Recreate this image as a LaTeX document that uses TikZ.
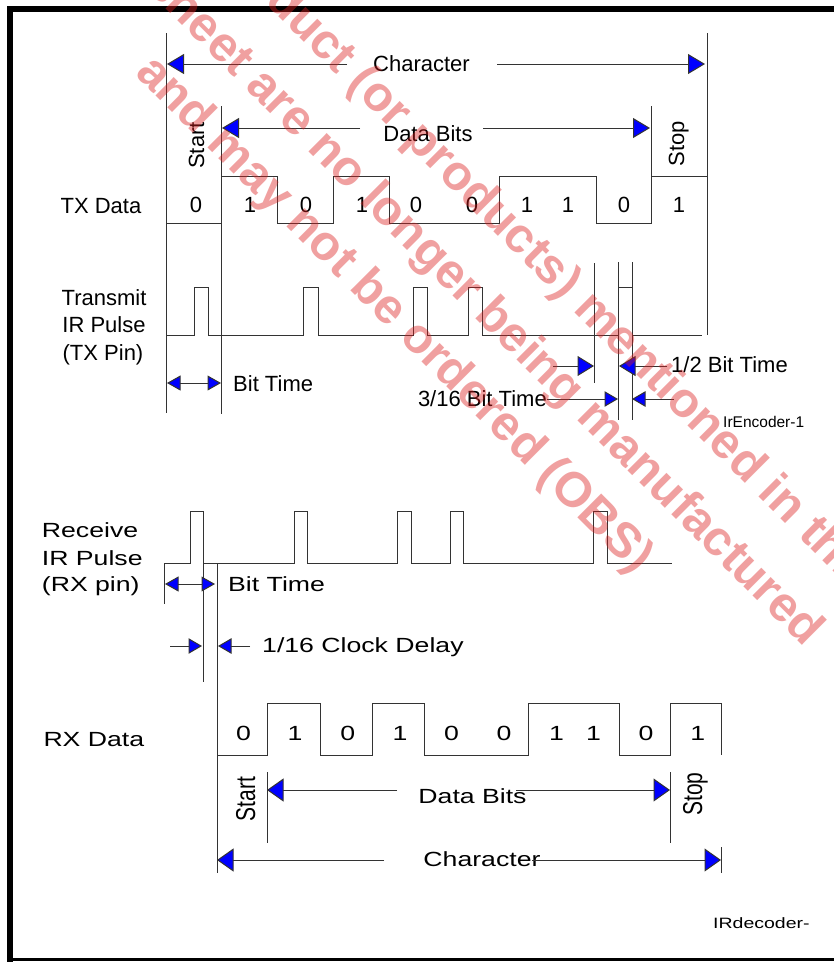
\documentclass[tikz,border=0pt]{standalone}
\usepackage{fontspec}
\setmainfont{Liberation Sans}
\newfontfamily\widefont[FakeStretch=1.3]{Liberation Sans}
\usetikzlibrary{arrows.meta}
\definecolor{wmred}{RGB}{220,30,30}
\tikzset{
  ln/.style={draw=black!80, line width=1pt},
  bord/.style={draw=black, line cap=rect},
  lt/.style={font=\fontsize{22}{22}\selectfont, inner sep=0pt},
  lts/.style={font=\fontsize{15.5}{15.5}\selectfont, inner sep=0pt},
  lb/.style={font=\widefont\fontsize{20.5}{20.5}\selectfont, inner sep=0pt},
  lbs/.style={font=\widefont\fontsize{15}{15}\selectfont, inner sep=0pt},
  tipA/.style={ln, -{Triangle[length=17pt,width=20pt,fill=blue]}},
  tipB/.style={ln, -{Triangle[length=13.5pt,width=15.5pt,fill=blue]}},
  tipC/.style={ln, {Triangle[length=13.5pt,width=15pt,fill=blue]}-{Triangle[length=13.5pt,width=15pt,fill=blue]}},
  tipD/.style={ln, -{Triangle[length=16.5pt,width=23pt,fill=blue]}},
  tipE/.style={ln, -{Triangle[length=16.5pt,width=20pt,fill=blue]}},
  wm/.style={rotate=-45, anchor=base west, inner sep=0pt, text=wmred, text opacity=0.42,
    font=\bfseries\fontsize{49}{49}\selectfont}
}
\begin{document}
\begin{tikzpicture}[x=1pt,y=-1pt]
\useasboundingbox (0,0) rectangle (834,962);
\fill[white] (0,0) rectangle (834,962);
% frame
\draw[bord, line width=6pt] (840,9) -- (10.3,9) -- (10.3,965);
\draw[bord, line width=2.5pt] (10,959.5) -- (840,959.5);

% ================= TX part =================
\draw[ln] (166,33) -- (166,413);
\draw[ln] (221,106) -- (221,414);
\draw[ln] (651,106) -- (651,224);
\draw[ln] (707,33) -- (707,335);
% TX data waveform
\draw[ln] (166,223) -- (221,223) -- (221,176) -- (277,176) -- (277,223) -- (333,223)
  -- (333,176) -- (389,176) -- (389,223) -- (499,223) -- (499,176) -- (596,176)
  -- (596,223) -- (651,223) -- (651,176) -- (707,176) -- (707,223);
% TX IR pulses
\draw[ln] (166,335) -- (194,335) -- (194,287) -- (208,287) -- (208,335) -- (303,335)
  -- (303,287) -- (318,287) -- (318,335) -- (413,335) -- (413,287) -- (427,287)
  -- (427,335) -- (468,335) -- (468,287) -- (482,287) -- (482,335) -- (618,335)
  -- (618,287) -- (632,287) -- (632,335) -- (702,335);
\draw[ln] (594,263) -- (594,383);
\draw[ln] (618,262) -- (618,420);
\draw[ln] (632,262) -- (632,420);

% labels TX
\node[lt, anchor=base] (txdata) at (101,213.3) {TX Data};
\node[lt, anchor=base] (tr1) at (104,305) {Transmit};
\node[lt, anchor=base] (tr2) at (104,332) {IR Pulse};
\node[lt, anchor=base] (tr3) at (103,360.5) {(TX Pin)};
\node[lt, anchor=base, rotate=90] (tstart) at (204,145.5) {Start};
\node[lt, anchor=base, rotate=90] (tstop) at (684,144) {Stop};
\foreach \x/\b [count=\i] in {196/0,250/1,306/0,362/1,416/0,472/0,527/1,568/1,624/0,679/1}
  \node[lt, anchor=base] (tb\i) at (\x,212) {\b};

% dimension arrows TX
\node[lt, anchor=base] (tchar) at (421.5,71) {Character};
\draw[tipA] (347,64) -- (167,64);
\draw[tipA] (497,64) -- (705,64);
\node[lt, anchor=base] (tdata) at (428,141.5) {Data Bits};
\draw[tipA] (360,128) -- (222,128);
\draw[tipA] (483,128) -- (650,128);
\draw[tipC] (167,383) -- (221,383);
\node[lt, anchor=base west] (tbit) at (233,391) {Bit Time};
\draw[tipE] (553,366) -- (594,366);
\draw[tipE] (667,366) -- (619,366);
\node[lt, anchor=base west] (thalf) at (671,372.7) {1/2 Bit Time};
\node[lt, anchor=base east] (t316) at (547,406.7) {3/16 Bit Time};
\draw[tipB] (547,399) -- (618,399);
\draw[tipB] (674,399) -- (632,399);
\node[lts, anchor=base west] (enc) at (723,427.7) {IrEncoder-1};

% ================= RX part =================
\draw[ln] (164,563) -- (190,563) -- (190,511) -- (203,511) -- (203,563) -- (294,563)
  -- (294,511) -- (307,511) -- (307,563) -- (397,563) -- (397,511) -- (411,511)
  -- (411,563) -- (450,563) -- (450,511) -- (463,511) -- (463,563) -- (593,563)
  -- (593,511) -- (607,511) -- (607,563) -- (672,563);
\draw[ln] (164,563) -- (164,604);
\draw[ln] (203,563) -- (203,682);
\draw[ln] (217,563) -- (217,873);
% RX data waveform
\draw[ln] (217,755) -- (267,755) -- (267,703) -- (320,703) -- (320,755) -- (372,755)
  -- (372,703) -- (424,703) -- (424,755) -- (528,755) -- (528,703) -- (619,703)
  -- (619,755) -- (670,755) -- (670,703) -- (721,703) -- (721,755);
\draw[ln] (267,772) -- (267,843);
\draw[ln] (670,772) -- (670,843);
\draw[ln] (721,847) -- (721,873);

% labels RX
\node[lb, anchor=base west] (rc1) at (41.7,537.3) {Receive};
\node[lb, anchor=base west] (rc2) at (41.7,565) {IR Pulse};
\node[lb, anchor=base west] (rc3) at (41.7,591.7) {(RX pin)};
\node[lb, anchor=base west] (rxdata) at (43.3,746.7) {RX Data};
\foreach \x/\b [count=\i] in {243.5/0,295/1,347.7/0,400/1,451.5/0,504/0,556.5/1,593.5/1,646/0,697.7/1}
  \node[lb, anchor=base] (rb\i) at (\x,740) {\b};
\node[anchor=base, rotate=90, inner sep=0pt, font=\fontsize{21}{21}\selectfont] (rstart) at (255,799.2) {\scalebox{1}[1.3]{Start}};
\node[anchor=base, rotate=90, inner sep=0pt, font=\fontsize{21}{21}\selectfont] (rstop) at (702,794.2) {\scalebox{1}[1.3]{Stop}};

% dimension arrows RX
\draw[tipC] (165,584) -- (215,584);
\node[lb, anchor=base west] (rbit) at (228,591.7) {Bit Time};
\draw[tipB] (170,646) -- (202,646);
\draw[tipB] (250,646) -- (218,646);
\node[lb, anchor=base west] (rdelay) at (262,652.7) {1/16 Clock Delay};
\node[lb, anchor=base] (rdata) at (472.5,803.3) {Data Bits};
\draw[tipD] (397,790) -- (267,790);
\draw[tipD] (516,790) -- (670,790);
\node[lb, anchor=base] (rchar) at (482,866.7) {Character};
\draw[tipD] (384,860) -- (217,860);
\draw[tipD] (532,860) -- (721,860);
\node[lbs, anchor=base west] (dec) at (713,928) {IRdecoder-};

% ================= watermark =================
\begin{scope}
\clip (0,0) rectangle (834,962);
\node[wm] (wm1) at (127.4,-134.6) {This product (or products) mentioned in this};
\node[wm] (wm2) at (63.4,-93.6) {data sheet are no longer being manufactured};
\node[wm] (wm3) at (134.4,74.4) {and may not be ordered (OBS)};
\end{scope}
\end{tikzpicture}
\end{document}
